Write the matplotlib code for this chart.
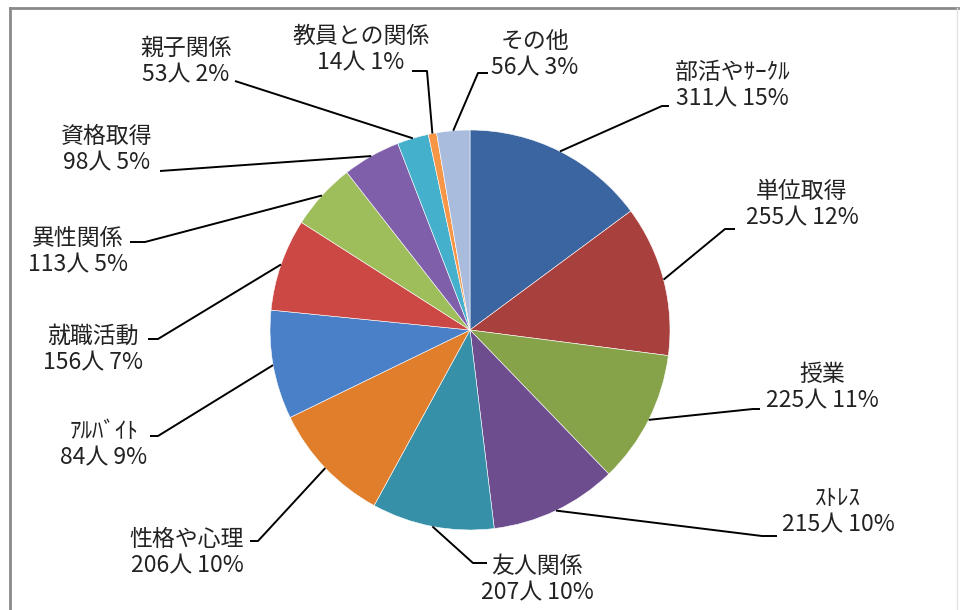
import numpy as np
import matplotlib
matplotlib.use('Agg')
import matplotlib.pyplot as plt

plt.rcParams['font.family'] = ['Noto Sans CJK JP', 'DejaVu Sans']

# categories, clockwise from 12 o'clock
names = ['部活やｻｰｸﾙ', '単位取得', '授業', 'ｽﾄﾚｽ', '友人関係', '性格や心理',
         'ｱﾙﾊﾞｲﾄ', '就職活動', '異性関係', '資格取得', '親子関係',
         '教員との関係', 'その他']
# counts as printed in the labels
count_text = [311, 255, 225, 215, 207, 206, 84, 156, 113, 98, 53, 14, 56]
pct_text = [15, 12, 11, 10, 10, 10, 9, 7, 5, 5, 2, 1, 3]
# slice sizes (the ｱﾙﾊﾞｲﾄ slice is ~9%, i.e. ~184)
values = [311, 255, 225, 215, 207, 206, 184, 156, 113, 98, 53, 14, 56]

colors = ['#3B65A0', '#A8403D', '#86A34A', '#6E4D8F', '#3590A8', '#E07E2C',
          '#4A80C8', '#CC4845', '#9EBE5C', '#7F5FAA', '#44B0CC', '#F79646',
          '#A9BCDE']

# label centres and leader line waypoints (pixel coords)
text_pos = [(732, 86), (802, 205), (822, 388), (838, 512), (537, 580),
            (187, 553), (104, 445), (93, 350), (78, 252), (107, 150),
            (186, 62), (361, 50), (535, 55)]
leader = [[(662, 106), (669, 106)], [(725, 229), (735, 229)],
          [(753, 409), (760, 409)], [(762, 536), (777, 536)],
          [(473, 563), (487, 563)], [(258, 541), (250, 541)],
          [(158, 436), (150, 436)], [(158, 339), (148, 339)],
          [(145, 242), (130, 242)], [(160, 171)], [(235, 81)],
          [(427, 71), (412, 71)], [(478, 73), (488, 73)]]


def main():
    fig = plt.figure(figsize=(9.6, 6.1), dpi=100)
    ax = fig.add_axes([0, 0, 1, 1])
    wedges, _ = ax.pie(values, colors=colors, startangle=-90, counterclock=True,
                       center=(470, 330), radius=200,
                       wedgeprops=dict(edgecolor='white', linewidth=0.4))
    ax.set_xlim(0, 960)
    ax.set_ylim(610, 0)
    ax.set_aspect('equal')
    ax.axis('off')

    for i, w in enumerate(wedges):
        mid = np.deg2rad((w.theta1 + w.theta2) / 2)
        x0 = w.center[0] + w.r * np.cos(mid)
        y0 = w.center[1] + w.r * np.sin(mid)
        xs = [x0] + [p[0] for p in leader[i]]
        ys = [y0] + [p[1] for p in leader[i]]
        ax.plot(xs, ys, color='black', lw=1.4, solid_capstyle='butt')
        ax.text(text_pos[i][0], text_pos[i][1],
                '{}\n{}人 {}%'.format(names[i], count_text[i], pct_text[i]),
                ha='center', va='center', fontsize=16.5, color='#222222')

    # chart frame
    ax.plot([10, 958], [8, 8], color='#8a8a8a', lw=2)
    ax.plot([10, 10], [8, 610], color='#8a8a8a', lw=2)
    ax.plot([957, 957], [8, 610], color='#e2e2e2', lw=1)

    fig.savefig('out.png', dpi=100)


main()
